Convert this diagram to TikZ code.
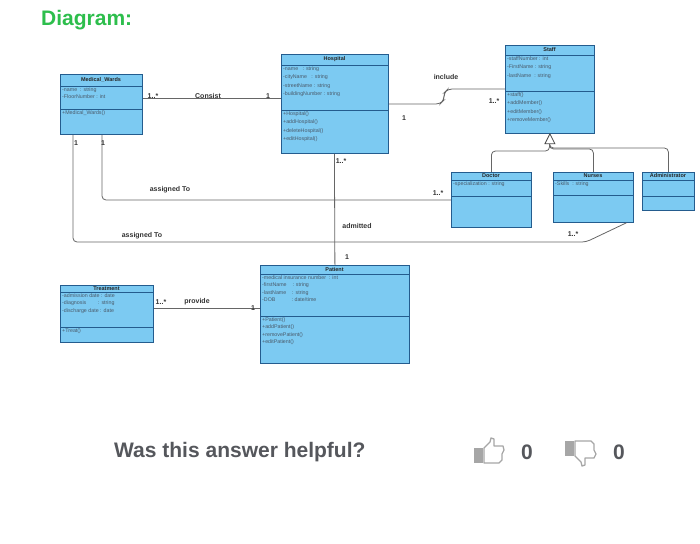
\documentclass[tikz,border=0pt]{standalone}
\usepackage{fontspec}
\setmainfont{Liberation Sans}
\usetikzlibrary{calc}
\definecolor{boxfill}{HTML}{7CCAF2}
\definecolor{boxline}{HTML}{245C8E}
\definecolor{ink}{HTML}{4A5A6A}
\definecolor{green}{HTML}{2DBE4C}
\definecolor{gray1}{HTML}{55575C}
\tikzset{
  box/.style={draw=boxline,fill=boxfill,line width=0.8pt,rectangle,inner sep=0pt},
  sep/.style={draw=boxline,line width=0.7pt},
  ttl/.style={font=\fontsize{5.5}{6}\selectfont\bfseries,text=black!85,inner sep=0pt},
  txt/.style={font=\fontsize{5.3}{10.5}\selectfont,text=ink,align=left,inner sep=1pt},
  conn/.style={draw=black!60,line width=0.8pt,rounded corners=4pt},
  lbl/.style={font=\fontsize{7}{8}\selectfont\bfseries,text=black!80,inner sep=0pt},
}
\newcommand\cls[9]{%
  \node[box,anchor=north west,minimum width=#4pt,minimum height={(#5+#6+#7)*1pt}] (#1) at (#2,#3) {};
  \draw[sep] (#2,#3+#5) -- ++(#4,0);
  \draw[sep] (#2,#3+#5+#6) -- ++(#4,0);
  \node[ttl] (#1-t) at (#2+#4/2,#3+#5/2) {#8};
  \node[txt,anchor=north west] (#1-a) at (#2+1,#3+#5) {#9};
  \coordinate (#1-m) at (#2+1,#3+#5+#6);
}
\newcommand\meth[2]{\node[txt,anchor=north west] (#1-mt) at (#1-m) {#2};}
\begin{document}
\begin{tikzpicture}[x=1pt,y=-1pt]
\useasboundingbox (0,0) rectangle (700,543);
\fill[white] (0,0) rectangle (700,543);
\node[font=\fontsize{21}{24}\selectfont\bfseries,text=green,anchor=west,inner sep=0pt] (head) at (41,20) {Diagram:};

\cls{mw}{60}{74}{82}{12}{23}{25}{Medical\_Wards}{-name~~: string\\[-3pt]-FloorNumber~: int}
\meth{mw}{+Medical\_Wards()}
\cls{hos}{281}{54}{107}{11}{45}{43}{Hospital}{-name~~~: string\\[-2pt]-cityName~~~: string\\[-2pt]-streetName : string\\[-2pt]-buildingNumber : string}
\meth{hos}{+Hospital()\\[-2pt]+addHospital()\\[-2pt]+deleteHospital()\\[-2pt]+editHospital()}
\cls{st}{505}{45}{89}{10}{36}{42}{Staff}{-staffNumber : int\\[-2pt]-FirstName : string\\[-2pt]-lastName~~: string}
\meth{st}{+staff()\\[-2pt]+addMember()\\[-2pt]+editMember()\\[-2pt]+removeMember()}
\cls{doc}{451}{172}{80}{8}{16}{31}{Doctor}{-specialization : string}
\cls{nur}{553}{172}{80}{8}{15}{27}{Nurses}{-Skills~~: string}
\cls{adm}{642}{172}{52}{8}{16}{14}{Administrator}{}
\cls{tr}{60}{285}{93}{7}{35}{15}{Treatment}{-admission date : date\\[-3pt]-diagnosis~~~~~~~~: string\\[-3pt]-discharge date : date}
\meth{tr}{+Treat()}
\cls{pat}{260}{265}{149}{9}{42}{47}{Patient}{-medical insurance number~~: int\\[-3pt]-firstName~~~~: string\\[-3pt]-lastName~~~~: string\\[-3pt]-DOB~~~~~~~~~~~: date/time}
\meth{pat}{+Patient()\\[-3pt]+addPatient()\\[-3pt]+removePatient()\\[-3pt]+editPatient()}

% connectors
\draw[conn] ([yshift=-24pt]mw.north east) -- ([yshift=-44pt]hos.north west);
\node[lbl] (l1) at (153,96) {1..*};
\node[lbl] (l2) at (208,96) {Consist};
\node[lbl] (l3) at (268,96) {1};

\coordinate (incA) at (445,104);
\draw[conn] ([yshift=-50pt]hos.north east) -- (440,104) -- (444,100) -- (444,93) -- (448,89) -- ([yshift=-44pt]st.north west);
\node[lbl] (l4) at (446,77) {include};
\node[lbl] (l5) at (404,118) {1};
\node[lbl] (l6) at (494,101) {1..*};

\draw[conn] ([xshift=42pt]mw.south west) |- ([yshift=-28pt]doc.north west);
\node[lbl] (l7) at (170,190) {assigned To};
\node[lbl] (l8) at (103,143) {1};
\node[lbl] (l9) at (438,193) {1..*};

\draw[conn] ([xshift=13pt]mw.south west) |- (586,242) -- ([xshift=33pt]nur.south);
\node[lbl] (l10) at (142,236) {assigned To};
\node[lbl] (l11) at (76,143) {1};
\node[lbl] (l12) at (573,234) {1..*};

\draw[conn] ([xshift=-0.5pt]hos.south) -- (hos.south |- pat.north);
\node[lbl] (l13) at (341,161) {1..*};
\node[lbl] (l14) at (357,226) {admitted};
\node[lbl] (l15) at (347,257) {1};

\draw[conn] ([yshift=-23pt]tr.north east) -- ([yshift=-43pt]pat.north west);
\node[lbl] (l16) at (161,302) {1..*};
\node[lbl] (l17) at (197,302) {provide};
\node[lbl] (l18) at (253,308) {1};

% generalization
\coordinate (g) at (549.5,143);
\draw[conn] (doc.north) |- (549.5,151) -- (g);
\draw[conn] (nur.north) |- (549.5,149) -- (g);
\draw[conn] (adm.north) |- (549.5,148) -- (g);
\draw[draw=black!70,fill=white,line width=0.8pt] (st.south) -- ++(-5,10) -- ++(10,0) -- cycle;

% footer
\node[font=\fontsize{21}{24}\selectfont\bfseries,text=gray1,anchor=west,inner sep=0pt] (q) at (114,452) {Was this answer helpful?};
\fill[gray!70] (474,448) rectangle (483,463);
\draw[gray!70,line width=1.3pt,line join=round] (484,448) -- (490,442) -- (491,438) -- (494,439) -- (494,446) -- (503,446) -- (504,450) -- (502,454) -- (502,460) -- (499,463) -- (484,463) -- cycle;
\node[font=\fontsize{21}{24}\selectfont\bfseries,text=gray1,inner sep=0pt] (n1) at (527,452) {0};
\fill[gray!70] (565,441) rectangle (574,456);
\draw[gray!70,line width=1.3pt,line join=round] (575,456) -- (581,462) -- (582,466) -- (585,465) -- (585,458) -- (594,458) -- (596,454) -- (594,450) -- (594,444) -- (591,441) -- (575,441) -- cycle;
\node[font=\fontsize{21}{24}\selectfont\bfseries,text=gray1,inner sep=0pt] (n2) at (619,452) {0};
\end{tikzpicture}
\end{document}
